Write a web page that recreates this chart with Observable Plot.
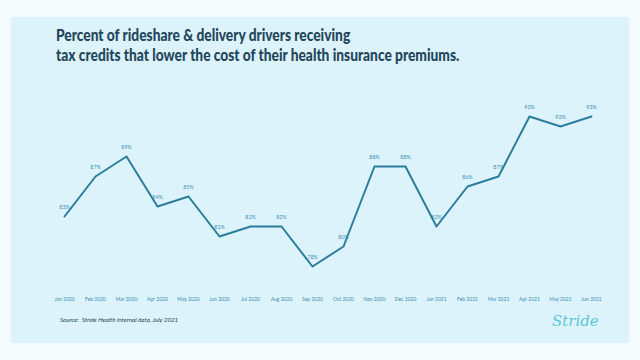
<!DOCTYPE html>
<html><head><meta charset="utf-8">
<script src="https://cdn.jsdelivr.net/npm/d3@7"></script>
<script src="https://cdn.jsdelivr.net/npm/@observablehq/plot@0.6"></script>
<style>
html,body{margin:0;padding:0;background:#f3fbfd;width:640px;height:360px;overflow:hidden;}
#panel{position:absolute;left:11px;top:17px;width:618px;height:326px;background:#dcf3fc;}
#title{position:absolute;left:56px;top:25px;font-family:Lato;font-weight:900;font-size:16px;line-height:20px;color:#23465a;white-space:nowrap;transform:scaleX(0.86);transform-origin:0 0;}
#chart{position:absolute;left:0;top:0;}
#source{position:absolute;left:60px;top:316px;font-family:Lato;font-style:italic;font-size:6.2px;color:#23465a;}
#logo{position:absolute;left:552px;top:312px;font-family:"DejaVu Serif";font-style:italic;font-size:15px;color:#5cc6da;}
</style></head>
<body>
<div id="panel"></div>
<div id="title">Percent of rideshare &amp; delivery drivers receiving<br>tax credits that lower the cost of their health insurance premiums.</div>
<div id="chart"></div>
<div id="source">Source:&nbsp; Stride Health internal data, July 2021</div>
<div id="logo">Stride</div>
<script>
const months = ["Jan 2020","Feb 2020","Mar 2020","Apr 2020","May 2020","Jun 2020","Jul 2020","Aug 2020","Sep 2020","Oct 2020","Nov 2020","Dec 2020","Jan 2021","Feb 2021","Mar 2021","Apr 2021","May 2021","Jun 2021"];
const values = [83,87,89,84,85,81,82,82,78,80,88,88,82,86,87,93,92,93];
const data = months.map((m,i)=>({month:m, value:values[i]}));
const plot = Plot.plot({
  width:640, height:360,
  marginLeft:62, marginRight:47, marginTop:116, marginBottom:94,
  style:{background:"transparent", fontFamily:"Lato"},
  x:{type:"point", domain:months, padding:0, label:null},
  y:{domain:[78,93], axis:null},
  marks:[
    Plot.axisX({tickSize:0, tickPadding:31, fontSize:5, fill:"#3d8fb0", label:null}),
    Plot.line(data,{x:"month", y:"value", stroke:"#2b7d9c", strokeWidth:2}),
    Plot.text(data,{x:"month", y:"value", text:d=>d.value+"%", dy:-9, fontSize:5.3, fill:"#3d8fb0"})
  ]
});
document.getElementById("chart").appendChild(plot);
</script>
</body></html>
